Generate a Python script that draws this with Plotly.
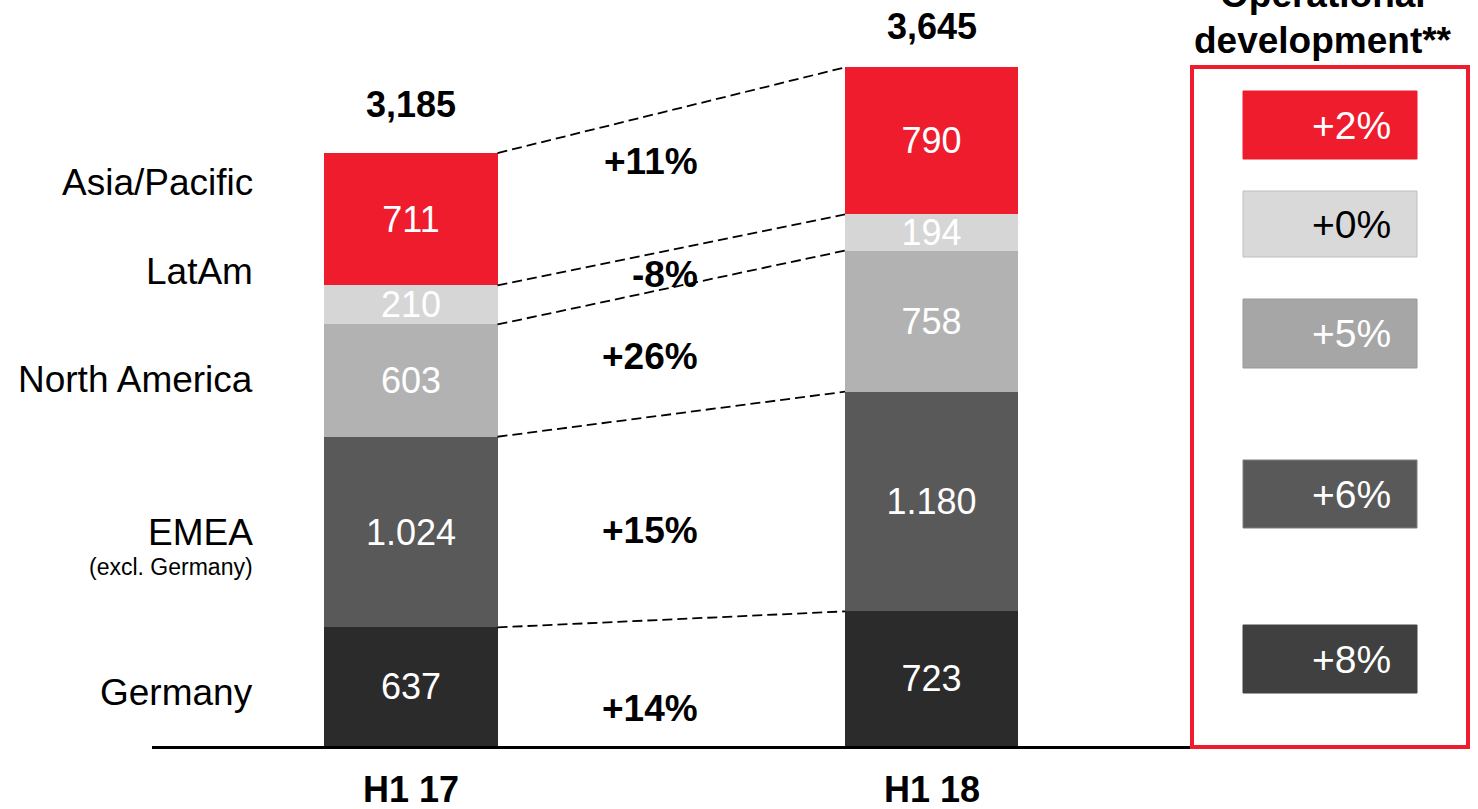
import plotly.graph_objects as go

# ---------------- data ----------------
periods = ["H1 17", "H1 18"]
regions = ["Germany", "EMEA", "North America", "LatAm", "Asia/Pacific"]  # bottom -> top
h1_17 = [637, 1024, 603, 210, 711]
h1_18 = [723, 1180, 758, 194, 790]
growth = ["+14%", "+15%", "+26%", "-8%", "+11%"]
op_dev = ["+8%", "+6%", "+5%", "+0%", "+2%"]
totals = [sum(h1_17), sum(h1_18)]

# ---------------- style ----------------
W, H = 1478, 809
FONT = "Liberation Sans, Arial, sans-serif"
bar_colors = ["#2B2B2B", "#595959", "#B2B2B2", "#D6D6D6", "#EE1C2D"]
legend_fill = ["#404040", "#595959", "#A6A6A6", "#D9D9D9", "#EE1C2D"]
legend_line = ["#404040", "#7F7F7F", "#999999", "#BFBFBF", "#EE1C2D"]
legend_text = ["white", "white", "white", "black", "white"]
legend_px = [(625, 693), (460, 528), (299, 368), (191, 257), (91, 159)]  # pixel tops/bottoms
label_y = [285, 1149, 1966, 2546, 3024]          # left labels (data units)
growth_y = [204, 1160, 2090, 2530, 3140]         # growth labels (data units)

x_pos = list(range(len(periods)))
BW = 0.3324
X_RANGE = [-0.7896, 2.0499]
Y_RANGE = [-338.4, 4006.9]

def px(x):
    return x / W

def py(y):
    return 1 - y / H

fig = go.Figure()

for i, reg in enumerate(regions):
    vals = [h1_17[i], h1_18[i]]
    fig.add_trace(go.Bar(
        x=x_pos, y=vals, width=BW,
        marker=dict(color=bar_colors[i], line=dict(width=0)),
        text=[f"{v:,}".replace(",", ".") for v in vals],
        textposition="inside", insidetextanchor="middle", textangle=0,
        textfont=dict(color="white", size=36, family=FONT),
        name=reg, hoverinfo="skip", showlegend=False,
    ))

# dashed connector lines between cumulative boundaries
c17, c18 = 0, 0
for i in range(len(regions)):
    c17 += h1_17[i]
    c18 += h1_18[i]
    fig.add_trace(go.Scatter(
        x=[x_pos[0] + BW / 2, x_pos[1] - BW / 2], y=[c17, c18],
        mode="lines", line=dict(color="black", width=1.8, dash="10px,5px"),
        hoverinfo="skip", showlegend=False,
    ))

ann = []
# totals
for xi, t, sh in zip(x_pos, totals, [26, 18]):
    ann.append(dict(x=xi, y=t, xref="x", yref="y", text=f"<b>{t:,}</b>",
                    showarrow=False, xanchor="center", yanchor="bottom", yshift=sh,
                    font=dict(size=36, color="black", family=FONT)))
# x labels
for xi, p in zip(x_pos, periods):
    ann.append(dict(x=xi, y=-236, xref="x", yref="y", text=f"<b>{p}</b>",
                    showarrow=False, xanchor="center", yanchor="middle",
                    font=dict(size=36, color="black", family=FONT)))
# left labels
for reg, yv in zip(regions, label_y):
    ann.append(dict(x=-0.2997, y=yv, xref="x", yref="y", text=reg,
                    showarrow=False, xanchor="right", yanchor="middle",
                    font=dict(size=37, color="black", family=FONT)))
ann.append(dict(x=-0.2997, y=961, xref="x", yref="y", text="(excl. Germany)",
                showarrow=False, xanchor="right", yanchor="middle",
                font=dict(size=23, color="black", family=FONT)))
# growth labels
for g, yv in zip(growth, growth_y):
    ann.append(dict(x=0.555, y=yv, xref="x", yref="y", text=f"<b>{g}</b>",
                    showarrow=False, xanchor="right", yanchor="middle",
                    font=dict(size=37, color="black", family=FONT)))

shapes = []
# baseline
shapes.append(dict(type="line", xref="x", yref="y", x0=-0.4976, x1=1.4966,
                   y0=-8, y1=-8, line=dict(color="black", width=3)))
# operational development panel
shapes.append(dict(type="rect", xref="paper", yref="paper",
                   x0=px(1192), x1=px(1468), y0=py(747), y1=py(67),
                   line=dict(color="#EE1C2D", width=4), fillcolor="rgba(0,0,0,0)"))
for val, (t, b), fc, lc, tc in zip(op_dev, legend_px, legend_fill, legend_line, legend_text):
    shapes.append(dict(type="rect", xref="paper", yref="paper",
                       x0=px(1243), x1=px(1417), y0=py(b), y1=py(t),
                       fillcolor=fc, line=dict(color=lc, width=1)))
    ann.append(dict(x=px(1393), y=py((t + b) / 2), xref="paper", yref="paper",
                    text=val, showarrow=False, xanchor="right", yanchor="middle",
                    font=dict(size=39, color=tc, family=FONT)))

ann.append(dict(x=px(1323), y=py(-5), xref="paper", yref="paper",
                text="<b>Operational</b>", showarrow=False,
                xanchor="center", yanchor="middle",
                font=dict(size=37, color="black", family=FONT)))
ann.append(dict(x=px(1323), y=py(41), xref="paper", yref="paper",
                text="<b>development**</b>", showarrow=False,
                xanchor="center", yanchor="middle",
                font=dict(size=37, color="black", family=FONT)))

fig.update_layout(
    width=W, height=H, margin=dict(l=0, r=0, t=0, b=0),
    barmode="stack", bargap=0,
    paper_bgcolor="white", plot_bgcolor="white",
    xaxis=dict(range=X_RANGE, visible=False, fixedrange=True),
    yaxis=dict(range=Y_RANGE, visible=False, fixedrange=True),
    uniformtext=dict(minsize=36, mode="show"),
    annotations=ann, shapes=shapes,
    font=dict(family=FONT),
)

fig.write_html("out.html", config={"displayModeBar": False},
               post_script="document.body.style.margin='0';document.body.style.overflow='hidden';")
